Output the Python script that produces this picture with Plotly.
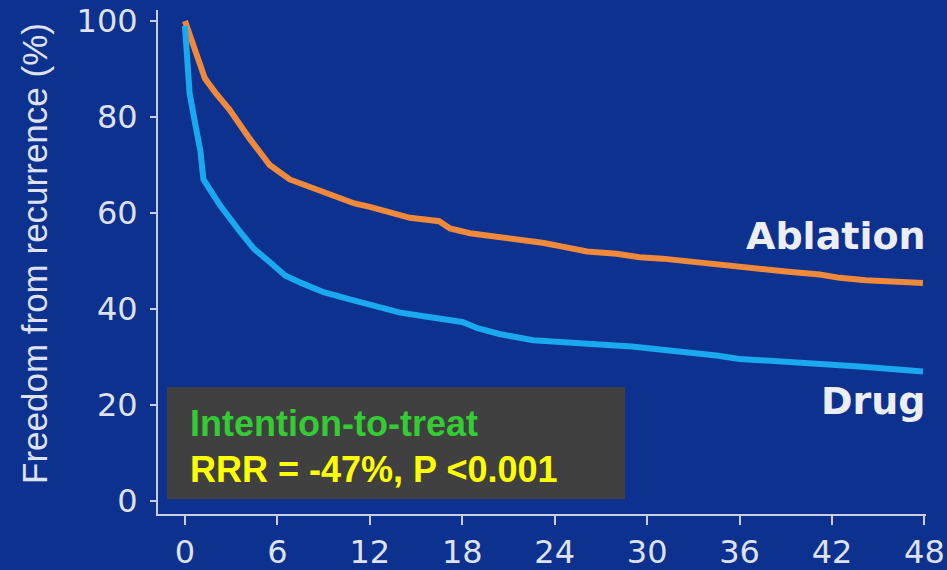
import plotly.graph_objects as go

# Kaplan-Meier style curves (months, % free from recurrence)
ablation_months = [0, 0.5, 1.3, 2, 2.9, 4.2, 5.5, 6.8, 8, 9.4, 11, 12, 13.5, 14.6, 16.5, 17.2,
                   18.5, 20.4, 22, 23.2, 24.5, 26.1, 28, 29.5, 31, 33, 35.5, 37, 39, 41.2,
                   42.5, 44.2, 46, 47.9]
ablation_free = [100, 95, 88, 85, 81.5, 75.5, 70, 67, 65.5, 64, 62, 61.3, 60, 59, 58.3, 56.8,
                 55.8, 55, 54.5, 53.8, 53, 52, 51.5, 50.8, 50.5, 49.8, 48.8, 48.2, 47.8, 47.2,
                 46.5, 46, 45.8, 45.4]

drug_months = [0, 0.3, 0.7, 1.0, 1.2, 2.3, 3.6, 4.5, 5.5, 6.5, 7.5, 9, 10.7, 12.3, 13.9, 15.5,
               16.5, 18, 19, 20.4, 22.6, 24, 26.9, 29, 31, 32.9, 34.5, 36, 38, 40, 42, 44, 46,
               47.9]
drug_free = [99, 85, 78, 73, 67, 61.5, 56, 52.5, 49.8, 47, 45.5, 43.5, 42, 40.5, 39.3, 38.5,
             38, 37.3, 36, 34.8, 33.5, 33.3, 32.6, 32.2, 31.6, 30.8, 30.3, 29.6, 29.3, 29, 28.4,
             28, 27.5, 27]

x_ticks = [0, 6, 12, 18, 24, 30, 36, 42, 48]
y_ticks = [0, 20, 40, 60, 80, 100]

bg = "#0c318f"
axis_col = "#c9cde6"
label_col = "#dfe2ee"

fig = go.Figure()
fig.add_trace(go.Scatter(x=ablation_months, y=ablation_free, mode="lines", name="Ablation",
                         line=dict(color="#f08a3a", width=6)))
fig.add_trace(go.Scatter(x=drug_months, y=drug_free, mode="lines", name="Drug",
                         line=dict(color="#1aa9ee", width=6)))

fig.update_layout(
    width=947, height=570,
    margin=dict(l=158, r=21, t=10, b=56),
    paper_bgcolor=bg, plot_bgcolor=bg,
    showlegend=False,
    xaxis=dict(range=[-1.75, 48.1], tickvals=x_ticks, showgrid=False, zeroline=False,
               showline=True, linecolor=axis_col, linewidth=2, automargin=False,
               ticks="outside", ticklen=9, tickwidth=2, tickcolor=axis_col,
               tickfont=dict(family="DejaVu Sans", size=32, color=label_col)),
    yaxis=dict(range=[-2.7, 102.3], tickvals=y_ticks, showgrid=False, zeroline=False,
               showline=True, linecolor=axis_col, linewidth=2, automargin=False,
               ticks="outside", ticklen=6, tickwidth=2, tickcolor=axis_col,
               ticklabelstandoff=6,
               tickfont=dict(family="DejaVu Sans", size=32, color=label_col)),
)

# y axis title placed by hand so it sits like the original
fig.add_annotation(text="Freedom from recurrence (%)", textangle=-90, xref="paper", yref="paper",
                   x=(35 - 158) / 768, y=(514 - 254) / 504, xanchor="center", yanchor="middle",
                   showarrow=False,
                   font=dict(family="Liberation Sans", size=35, color=label_col))

fig.add_annotation(text="<b>Ablation</b>", xref="paper", yref="paper", x=1.003, y=(514 - 236) / 504,
                   xanchor="right", yanchor="middle", showarrow=False,
                   font=dict(family="DejaVu Sans", size=38, color="#eceef4"))
fig.add_annotation(text="<b>Drug</b>", xref="paper", yref="paper", x=1.003, y=(514 - 401) / 504,
                   xanchor="right", yanchor="middle", showarrow=False,
                   font=dict(family="DejaVu Sans", size=38, color="#eceef4"))

# grey overlay box with the stats
fig.add_shape(type="rect", xref="paper", yref="paper",
              x0=(167 - 158) / 768, x1=(625 - 158) / 768, y0=(514 - 499) / 504, y1=(514 - 387) / 504,
              fillcolor="#404040", line=dict(width=0))
fig.add_annotation(text="<b>Intention-to-treat</b>", xref="paper", yref="paper",
                   x=(188 - 158) / 768, y=(514 - 423) / 504, xanchor="left", yanchor="middle",
                   showarrow=False, font=dict(family="Liberation Sans", size=36, color="#33cc33"))
fig.add_annotation(text="<b>RRR = -47%, P <0.001</b>", xref="paper", yref="paper",
                   x=(188 - 158) / 768, y=(514 - 469) / 504, xanchor="left", yanchor="middle",
                   showarrow=False, font=dict(family="Liberation Sans", size=36, color="#ffff00"))

# drop the browser's default page margin so the figure sits at the window's corner
fig.write_html("out.html", config={"displayModeBar": False},
               post_script="document.body.style.margin = '0';")
